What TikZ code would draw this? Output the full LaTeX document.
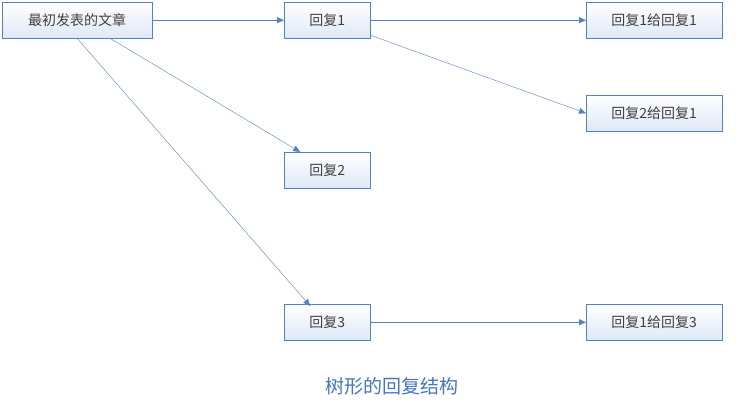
\documentclass[tikz,border=0pt]{standalone}
\usepackage{fontspec}
\setmainfont{Noto Sans CJK SC}
\usetikzlibrary{arrows.meta}
\definecolor{boxline}{RGB}{84,130,190}
\definecolor{boxfill}{RGB}{222,232,246}
\definecolor{txt}{RGB}{64,64,64}
\definecolor{capt}{RGB}{70,118,190}
\begin{document}
\begin{tikzpicture}[x=1pt,y=-1pt,
    reply/.style={draw=boxline, top color=white, bottom color=boxfill,
        text=txt, font=\fontsize{14}{15}\selectfont, minimum height=36pt,
        inner sep=0pt, anchor=north west},
    link/.style={-{Triangle[length=7pt,width=6pt]}, draw=boxline, thin}]
    \useasboundingbox (0,0) rectangle (738,414);
    % Nodes
    \node[reply, minimum width=150pt] (post) at (2,2) {最初发表的文章};
    \node[reply, minimum width=86pt] (r1) at (284,2) {回复1};
    \node[reply, minimum width=86pt] (r2) at (284,152) {回复2};
    \node[reply, minimum width=86pt] (r3) at (284,304) {回复3};
    \node[reply, minimum width=136pt] (r11) at (586,2) {回复1给回复1};
    \node[reply, minimum width=136pt] (r21) at (586,95) {回复2给回复1};
    \node[reply, minimum width=136pt] (r13) at (586,304) {回复1给回复3};
    \node[text=capt, font=\fontsize{19}{20}\selectfont] (title) at (392,386) {树形的回复结构};

    \draw[link] (post) -- (r1);
    \draw[link] ([xshift=33pt]post.south) -- ([xshift=-27pt]r2.north);
    \draw[link] (post.south) -- ([xshift=-17pt,yshift=-2pt]r3.north);
    \draw[link] (r1) -- (r11);
    \draw[link] ([yshift=-15pt]r1.east) -- (r21.west);
    \draw[link] (r3) -- (r13);
\end{tikzpicture}
\end{document}
